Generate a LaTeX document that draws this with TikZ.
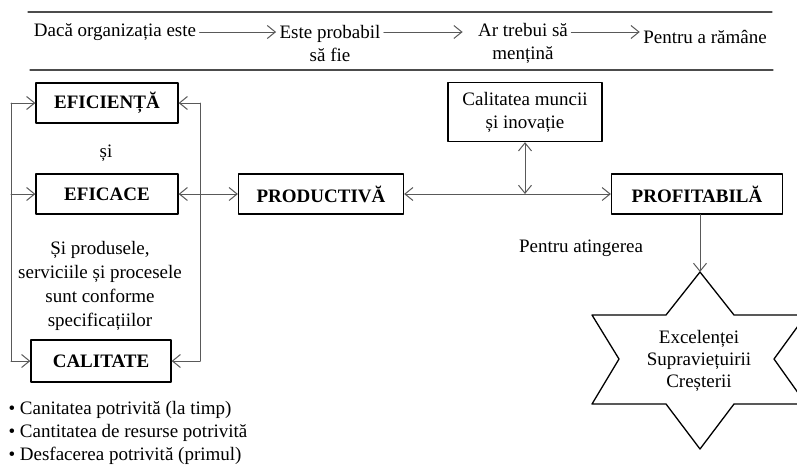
\documentclass[tikz,border=0pt]{standalone}
\usepackage{fontspec}
\setmainfont{Liberation Serif}
\usetikzlibrary{arrows.meta}
\tikzset{
  box/.style={draw, line width=1.3pt, font=\fontsize{19}{23}\selectfont\bfseries, minimum height=40pt, inner sep=2pt},
  conn/.style={draw=black!65, line width=1pt},
  rule/.style={draw=black!70, line width=1.2pt},
}
\begin{document}
\begin{tikzpicture}[line cap=round, line join=round, x=1pt, y=-1pt, font=\fontsize{19}{23}\selectfont, >={Straight Barb[length=8pt,width=13pt]}]
                \clip (0,0) rectangle (797,466);
                % header
                \draw[rule] (28,12) -- (772,12);
                \draw[rule] (30,70) -- (773,70);
                \node (hdA) at (115,32) {Dacă organizația este};
                \node[align=center] (hdB) at (330,43) {Este probabil\\să fie};
                \node[align=center] (hdC) at (523,43) {Ar trebui să\\mențină};
                \node (hdD) at (705,37) {Pentru a rămâne};
                \draw[conn,->] (hdA.east) -- (hdA.east -| hdB.west);
                \draw[conn,->,shorten >=12pt] (hdB.east |- hdA) -- (hdC.west |- hdA);
                \draw[conn,->] (hdC.east |- hdA) -- (hdD.west |- hdA);
                % boxes
                \node[box, minimum width=142pt] (eff) at (107,103) {EFICIENȚĂ};
                \node[box, minimum width=142pt] (eca) at (107,194) {EFICACE};
                \node[box, minimum width=140pt, minimum height=42pt] (cal) at (101,361) {CALITATE};
                \node (and) at (106,153) {și};
                \node[align=center, font=\fontsize{19}{24}\selectfont] (cond) at (100,286) {Și produsele,\\serviciile și procesele\\sunt conforme\\specificațiilor};
                \node[box, minimum width=165pt] (prod) at (321,194) {PRODUCTIVĂ};
                \node[box, font=\fontsize{19}{23}\selectfont, minimum width=154pt, minimum height=59pt, align=center] (qual) at (525,112) {Calitatea muncii\\și inovație};
                \node[box, minimum width=171pt] (prof) at (697,194) {PROFITABILĂ};
                \node (reach) at (581,248) {Pentru atingerea};
                \node[anchor=west, align=left] (perf) at (5,433) {• Canitatea potrivită (la timp)\\• Cantitatea de resurse potrivită\\• Desfacerea potrivită (primul)};
                % star
                \coordinate (tipTop) at (700,272);
                \draw[line width=1.3pt] (tipTop) -- (666,315) -- (592,315) -- (619,359) -- (592,404) -- (666,404) -- (700,449)
                    -- (734,404) -- (806,404) -- (774,359) -- (806,315) -- (734,315) -- cycle;
                \node[align=center, font=\fontsize{19}{22}\selectfont] (goal) at (699,361) {Excelenței\\Supraviețuirii\\Creșterii};
                % connectors
                \coordinate (lbus) at (11,0);
                \coordinate (rbus) at (200,0);
                \draw[conn] (eff.west -| lbus) -- (cal.west -| lbus);
                \draw[conn] (eff.east -| rbus) -- (cal.east -| rbus);
                \foreach \b in {eff,eca,cal}
                    \draw[conn,->] (\b.west -| lbus) -- (\b.west);
                \foreach \b in {eff,cal}
                    \draw[conn,->] (\b.east -| rbus) -- (\b.east);
                \draw[conn,<->] (eca) -- (prod);
                \draw[conn,<->] (prod) -- (prof);
                \draw[conn,<->] (qual) -- (qual |- prod);
                \draw[conn,->] (prof.south -| tipTop) -- (tipTop);
            \end{tikzpicture}
\end{document}
